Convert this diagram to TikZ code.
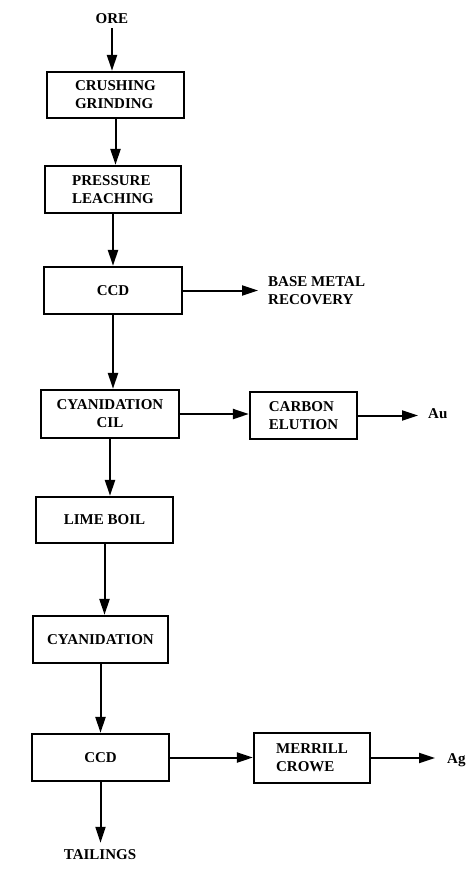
\documentclass[tikz,border=0pt]{standalone}
\usepackage{fontspec}
\setmainfont{Liberation Serif}
\usepackage{tikz}
\usetikzlibrary{positioning,arrows.meta}

\begin{document}
\begin{tikzpicture}[
    x=1pt, y=-1pt,
    unit/.style={rectangle, draw=black, line width=2.2pt, fill=white, align=center, inner sep=0pt,
                 font=\bfseries\fontsize{15}{18}\selectfont},
    outlet/.style={inner sep=0pt, align=left, font=\bfseries\fontsize{15}{18}\selectfont},
    flow/.style={line width=2pt, -{Triangle[length=16pt,width=10pt]}}
]
  \useasboundingbox (0,0) rectangle (475,871);

  % main column
  \node[outlet] (ore) at (112,19) {ORE};
  \node[unit, align=left, minimum width=137pt, minimum height=46pt] (crush) at (115.5,95) {CRUSHING\\GRINDING};
  \node[unit, align=left, minimum width=136pt, minimum height=47pt] (press) at (113,189.5) {PRESSURE\\LEACHING};
  \node[unit, minimum width=138pt, minimum height=47pt] (ccdA) at (113,290.5) {CCD};
  \node[unit, minimum width=138pt, minimum height=48pt] (cil) at (110,414) {CYANIDATION\\CIL};
  \node[unit, minimum width=137pt, minimum height=46pt] (lime) at (104.5,520) {LIME BOIL};
  \node[unit, minimum width=135pt, minimum height=47pt] (cyan) at (100.5,639.5) {CYANIDATION};
  \node[unit, minimum width=137pt, minimum height=47pt] (ccdB) at (100.5,757.5) {CCD};
  \node[outlet] (tail) at (100,855) {TAILINGS};

  % side branches
  \node[outlet, anchor=west] (base) at (268,291) {BASE METAL\\RECOVERY};
  \node[unit, align=left, minimum width=107pt, minimum height=47pt] (elution) at (303.5,415.5) {CARBON\\ELUTION};
  \node[outlet, anchor=west] (au) at (428,414) {Au};
  \node[unit, align=left, minimum width=116pt, minimum height=50pt] (merrill) at (312,758) {MERRILL\\CROWE};
  \node[outlet, anchor=west] (ag) at (447,760) {Ag};

  \draw[flow, shorten <=4pt] (ore) -- (ore |- crush.north);
  \draw[flow] (crush.south) -- (crush.south |- press.north);
  \draw[flow] (press.south) -- (press.south |- ccdA.north);
  \draw[flow] (ccdA.south) -- (ccdA.south |- cil.north);
  \draw[flow] (cil.south) -- (cil.south |- lime.north);
  \draw[flow] (lime.south) -- (lime.south |- cyan.north);
  \draw[flow] (cyan.south) -- (cyan.south |- ccdB.north);
  \draw[flow, shorten >=7pt] (ccdB.south) -- (ccdB.south |- tail.north);

  \draw[flow, shorten >=10pt] (ccdA.east) -- (ccdA.east -| base.west);
  \draw[flow] (cil.east) -- (cil.east -| elution.west);
  \draw[flow, shorten >=10pt] (elution.east) -- (elution.east -| au.west);
  \draw[flow] (ccdB.east) -- (ccdB.east -| merrill.west);
  \draw[flow, shorten >=12pt] (merrill.east) -- (merrill.east -| ag.west);
\end{tikzpicture}
\end{document}
